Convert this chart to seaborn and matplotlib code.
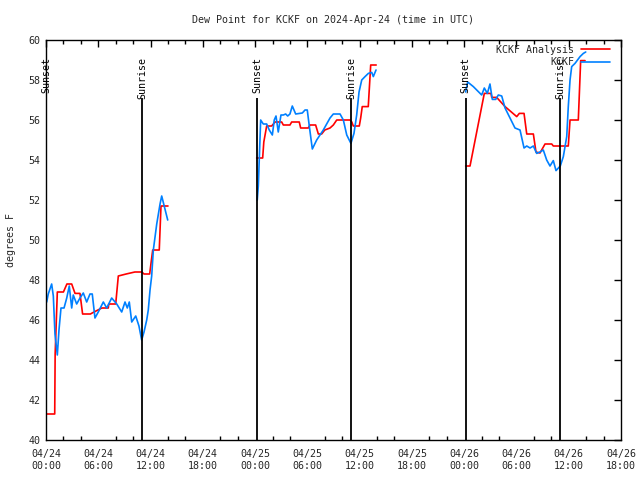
import numpy as np
import pandas as pd
import matplotlib
matplotlib.use("Agg")
import matplotlib.pyplot as plt
import seaborn as sns
from matplotlib.lines import Line2D

TITLE = "Dew Point for KCKF on 2024-Apr-24 (time in UTC)"
Y_LABEL = "degrees F"
X_TICK_HOURS = [0, 6, 12, 18, 24, 30, 36, 42, 48, 54, 60, 66]
X_TICK_LABELS = ["04/24\n00:00", "04/24\n06:00", "04/24\n12:00", "04/24\n18:00",
                 "04/25\n00:00", "04/25\n06:00", "04/25\n12:00", "04/25\n18:00",
                 "04/26\n00:00", "04/26\n06:00", "04/26\n12:00", "04/26\n18:00"]
Y_TICKS = [40, 42, 44, 46, 48, 50, 52, 54, 56, 58, 60]
SERIES_NAMES = ["KCKF Analysis", "KCKF"]

# KCKF Analysis (hours since 04/24 00:00 UTC, dew point F)
analysis_day1_hours = [0.08, 1.0, 1.05, 1.3, 2.0, 2.4, 2.95, 3.33, 3.9, 4.2, 5.1, 5.3, 6.4, 7.15,
                       7.2, 8.0, 8.3, 9.2, 10.2, 11.0, 11.25, 11.9, 12.1, 12.25, 13.0, 13.2, 14.0]
analysis_day1_values = [41.3, 41.3, 44.3, 47.4, 47.4, 47.8, 47.8, 47.33, 47.33, 46.3, 46.3, 46.35,
                        46.6, 46.6, 46.8, 46.8, 48.2, 48.3, 48.4, 48.4, 48.3, 48.3, 49.0, 49.5,
                        49.5, 51.7, 51.7]
analysis_day2_hours = [24.18, 24.87, 25.0, 25.33, 25.9, 26.29, 27.05, 27.24, 28.0, 28.2, 29.07,
                       29.23, 30.1, 30.3, 30.95, 31.26, 31.64, 32.0, 32.6, 32.98, 33.37, 34.9,
                       35.1, 35.27, 35.96, 36.12, 36.3, 36.99, 37.27, 37.9]
analysis_day2_values = [54.1, 54.1, 54.9, 55.7, 55.7, 55.9, 55.9, 55.75, 55.75, 55.9, 55.9,
                        55.6, 55.6, 55.75, 55.75, 55.3, 55.3, 55.5, 55.6, 55.75, 56.0, 56.0,
                        55.9, 55.7, 55.7, 56.1, 56.67, 56.67, 58.75, 58.75]
analysis_day3_hours = [48.17, 48.67, 50.31, 51.08, 51.16, 51.73, 52.69, 54.03, 54.33, 54.87,
                       55.18, 55.94, 56.24, 56.7, 57.28, 58.05, 58.23, 59.95, 60.15, 61.1,
                       61.37, 61.87]
analysis_day3_values = [53.7, 53.7, 57.33, 57.33, 57.13, 57.13, 56.67, 56.17, 56.33, 56.33,
                        55.3, 55.3, 54.4, 54.35, 54.8, 54.8, 54.7, 54.7, 56.0, 56.0, 58.97, 58.97]

# KCKF observations
obs_day1_hours = [0.08, 0.26, 0.65, 0.84, 1.03, 1.3, 1.49, 1.72, 2.07, 2.38, 2.67, 2.95, 3.13,
                  3.52, 3.9, 4.28, 4.67, 5.05, 5.31, 5.62, 6.0, 6.58, 6.97, 7.54, 8.12, 8.69,
                  9.07, 9.33, 9.56, 9.84, 10.3, 10.67, 10.98, 11.25, 11.56, 11.74, 11.94, 12.13,
                  12.32, 12.71, 13.09, 13.28, 13.54, 13.74, 13.97]
obs_day1_values = [46.9, 47.3, 47.8, 47.2, 45.3, 44.25, 45.5, 46.6, 46.6, 47.1, 47.7, 46.6, 47.25,
                   46.8, 47.1, 47.35, 46.9, 47.3, 47.3, 46.1, 46.4, 46.9, 46.6, 47.1, 46.8, 46.4,
                   46.9, 46.6, 46.9, 45.9, 46.2, 45.7, 45.0, 45.4, 46.0, 46.5, 47.5, 48.2,
                   49.5, 50.8, 51.8, 52.2, 51.75, 51.4, 51.0]
obs_day2_hours = [24.25, 24.37, 24.64, 24.94, 25.33, 25.63, 25.98, 26.2, 26.4, 26.66, 26.97,
                  27.24, 27.51, 27.74, 28.0, 28.27, 28.66, 29.42, 29.73, 29.99, 30.22, 30.57,
                  31.07, 31.83, 32.6, 32.98, 33.75, 34.13, 34.52, 35.0, 35.35, 35.66, 35.93,
                  36.24, 36.62, 37.0, 37.39, 37.57, 37.88]
obs_day2_values = [52.0, 52.7, 56.0, 55.8, 55.8, 55.5, 55.25, 56.0, 56.2, 55.4, 56.25,
                   56.25, 56.3, 56.2, 56.3, 56.7, 56.3, 56.35, 56.5, 56.5, 55.7, 54.55,
                   55.0, 55.5, 56.1, 56.3, 56.3, 56.0, 55.25, 54.83, 55.33, 56.25, 57.4,
                   58.0, 58.17, 58.33, 58.38, 58.17, 58.5]
obs_day3_hours = [48.17, 48.4, 49.05, 50.01, 50.31, 50.66, 50.96, 51.23, 51.62, 51.92, 52.31,
                  52.69, 53.26, 53.83, 54.41, 54.87, 55.18, 55.56, 55.94, 56.32, 56.7, 57.08,
                  57.47, 57.85, 58.23, 58.54, 59.03, 59.38, 59.77, 59.95, 60.15, 60.34, 60.72,
                  61.3, 61.68, 61.95]
obs_day3_values = [57.4, 57.9, 57.67, 57.25, 57.6, 57.33, 57.8, 57.03, 57.03, 57.25, 57.2,
                   56.6, 56.1, 55.6, 55.5, 54.6, 54.7, 54.6, 54.7, 54.33, 54.4, 54.5,
                   54.0, 53.7, 53.97, 53.47, 53.7, 54.17, 55.17, 56.67, 58.0, 58.67, 58.83,
                   59.17, 59.33, 59.4]

EVENT_HOURS = [0.05, 11.02, 24.22, 35.0, 48.17, 59.03]
EVENT_LABELS = ["Sunset", "Sunrise", "Sunset", "Sunrise", "Sunset", "Sunrise"]

COLORS = {"KCKF Analysis": "#ff0000", "KCKF": "#0080ff"}
MONO = "DejaVu Sans Mono"
FS = 7.2

def frame(name, parts):
    rows = []
    for seg, (hrs, vals) in enumerate(parts):
        for h, v in zip(hrs, vals):
            rows.append({"series": name, "segment": seg, "hour": h, "value": v})
    return pd.DataFrame(rows)

df = pd.concat([
    frame("KCKF Analysis", [(analysis_day1_hours, analysis_day1_values),
                            (analysis_day2_hours, analysis_day2_values),
                            (analysis_day3_hours, analysis_day3_values)]),
    frame("KCKF", [(obs_day1_hours, obs_day1_values),
                   (obs_day2_hours, obs_day2_values),
                   (obs_day3_hours, obs_day3_values)]),
], ignore_index=True)

sns.set_style("white")
plt.rcParams["font.family"] = [MONO, "DejaVu Sans"]

fig = plt.figure(figsize=(6.4, 4.8), dpi=100)
ax = fig.add_axes([46 / 640, 40 / 480, 575 / 640, 400 / 480])

for name in SERIES_NAMES:
    sub = df[df["series"] == name]
    sns.lineplot(data=sub, x="hour", y="value", units="segment", estimator=None,
                 sort=False, color=COLORS[name], linewidth=1.2, ax=ax, legend=False)

for h, lab in zip(EVENT_HOURS, EVENT_LABELS):
    ax.vlines(h, 40, 57.1, color="black", linewidth=1.3, zorder=3)
    ax.text(h, 59.15, lab, rotation=90, ha="center", va="top", fontsize=FS,
            family=MONO, color="black")

ax.set_xlim(0, 66)
ax.set_ylim(40, 60)
ax.set_xticks(X_TICK_HOURS)
ax.set_xticklabels(X_TICK_LABELS, fontsize=FS, family=MONO, linespacing=1.3)
ax.set_xticks(np.arange(0, 67, 2), minor=True)
ax.set_yticks(Y_TICKS)
ax.set_yticklabels([str(v) for v in Y_TICKS], fontsize=FS, family=MONO)
ax.tick_params(axis="both", which="major", direction="in", length=5, width=1,
               top=True, right=True, color="black")
ax.tick_params(axis="x", which="minor", direction="in", length=3, width=1,
               top=True, bottom=True, color="black")
ax.tick_params(axis="x", which="major", pad=6.5)
ax.tick_params(axis="y", which="major", pad=4)
for sp in ax.spines.values():
    sp.set_color("black")
    sp.set_linewidth(1.0)
ax.set_xlabel("")
ax.set_ylabel(Y_LABEL, fontsize=FS, family=MONO)
ax.yaxis.set_label_coords(-30 / 575, 0.5)
ax.set_title(TITLE, fontsize=FS, family=MONO, pad=12)

handles = [Line2D([0], [0], color=COLORS[n], linewidth=1.2) for n in SERIES_NAMES]
ax.legend(handles, SERIES_NAMES, loc="upper right", bbox_to_anchor=(1 - 11 / 575, 1 - 5 / 400),
          frameon=False, markerfirst=False, prop={"family": MONO, "size": FS},
          handlelength=2.9, handletextpad=0.7, labelspacing=0.25, borderpad=0, borderaxespad=0)

fig.savefig("out.png", dpi=100)
